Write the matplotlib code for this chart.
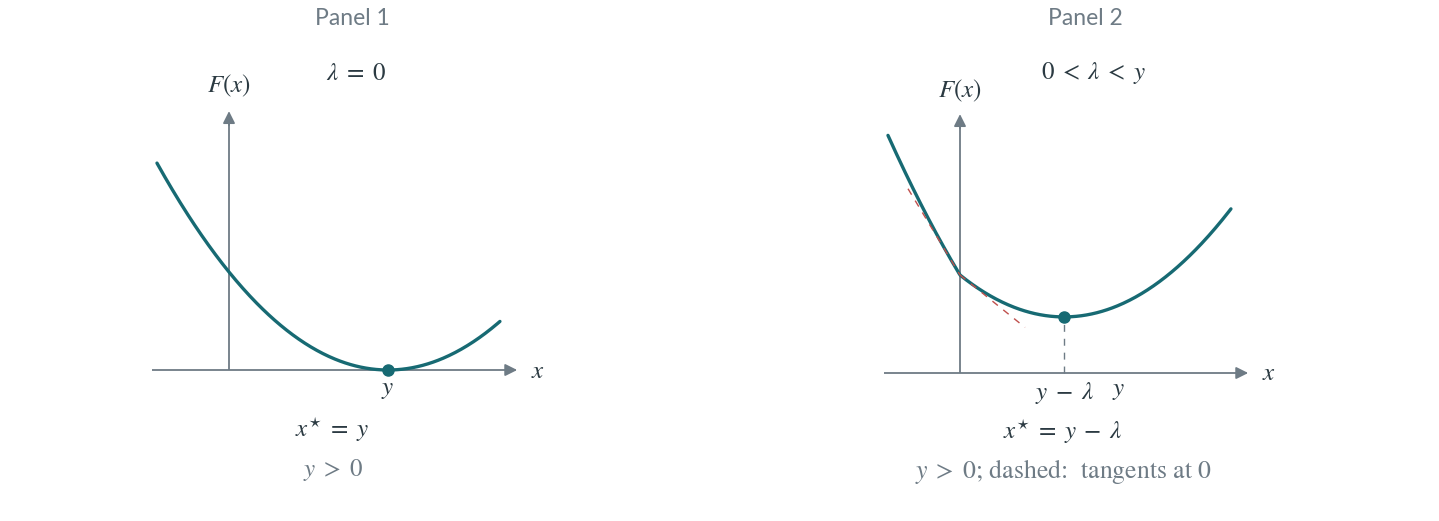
import numpy as np
import matplotlib
matplotlib.use("Agg")
import matplotlib.pyplot as plt

plt.rcParams['mathtext.fontset'] = 'stix'
plt.rcParams['font.family'] = ['Lato', 'DejaVu Sans']

# values (units: x in multiples of y, F scaled)
y_val = 1.0
lam1 = 0.0
lam2 = 0.346
x_left = -0.453
x_right = 1.704
tan_left_from = -0.327
tan_right_to = 0.409

teal = '#176a73'
grey = '#6e7b85'
red = '#c0504d'
textc = '#2b3a42'

W, H = 1439, 521
fig = plt.figure(figsize=(W / 100, H / 100), dpi=100)

# pixel scale: 159 px per x unit, 196 px per F unit
sx, sy = 159.0, 196.0


def make_axes(ox, oy, left, right, top, bottom):
    ax = fig.add_axes([left / W, 1 - bottom / H, (right - left) / W, (bottom - top) / H])
    ax.set_xlim((left - ox) / sx, (right - ox) / sx)
    ax.set_ylim((oy - bottom) / sy, (oy - top) / sy)
    ax.axis('off')
    return ax


def draw_axes(ax, xmin, xmax, ymax):
    ax.plot([xmin, xmax - 0.05], [0, 0], color=grey, lw=1.3, solid_capstyle='butt')
    ax.plot([0, 0], [0, ymax - 0.05], color=grey, lw=1.3, solid_capstyle='butt')
    ax.annotate('', xy=(xmax, 0), xytext=(xmax - 0.1, 0),
                arrowprops=dict(arrowstyle='-|>', color=grey, lw=1.3, mutation_scale=18))
    ax.annotate('', xy=(0, ymax), xytext=(0, ymax - 0.1),
                arrowprops=dict(arrowstyle='-|>', color=grey, lw=1.3, mutation_scale=18))


def F(x, lam):
    return 0.5 * (x - y_val) ** 2 + lam * np.abs(x)


ms = 18
ts = 16.5

# ---- Panel 1
ax1 = make_axes(229, 370, 100, 640, 0, 521)
draw_axes(ax1, -0.484, 1.83, 1.335)
xs = np.linspace(x_left, x_right, 400)
ax1.plot(xs, F(xs, lam1), color=teal, lw=2.4, solid_capstyle='round')
ax1.plot([y_val], [0], 'o', color=teal, ms=8)
ax1.text(1.94, 0, r'$x$', fontsize=ms, color=textc, ha='center', va='center')
ax1.text(0, 1.45, r'$F(x)$', fontsize=ms, color=textc, ha='center', va='center')
ax1.text(0.8, 1.52, r'$\lambda\;=\;0$', fontsize=ms, color=textc, ha='center', va='center')
ax1.text(y_val, -0.1, r'$y$', fontsize=ms, color=textc, ha='center', va='center')
ax1.text(0.648, -0.305, r'$x^{\star}\;=\;y$', fontsize=ms, color=textc, ha='center', va='center')
ax1.text(0.654, -0.51, r'$y\;>\;0$', fontsize=ms, color=grey, ha='center', va='center')
ax1.text(0.773, 1.795, 'Panel 1', fontsize=ts, color=grey, ha='center', va='center')

# ---- Panel 2
ax2 = make_axes(960, 373, 830, 1380, 0, 521)
draw_axes(ax2, -0.478, 1.83, 1.335)
ax2.plot(xs, F(xs, lam2), color=teal, lw=2.4, solid_capstyle='round')
tl = np.array([tan_left_from, 0.0])
tr = np.array([0.0, tan_right_to])
ax2.plot(tl, F(0, lam2) + (-y_val - lam2) * tl, color=red, lw=1.0, ls=(0, (5, 5)))
ax2.plot(tr, F(0, lam2) + (-y_val + lam2) * tr, color=red, lw=1.0, ls=(0, (5, 5)))
xmin2 = y_val - lam2
ax2.plot([xmin2, xmin2], [0, F(xmin2, lam2)], color=grey, lw=1.0, ls=(0, (5, 5)))
ax2.plot([xmin2], [F(xmin2, lam2)], 'o', color=teal, ms=8)
ax2.text(1.94, 0, r'$x$', fontsize=ms, color=textc, ha='center', va='center')
ax2.text(0, 1.44, r'$F(x)$', fontsize=ms, color=textc, ha='center', va='center')
ax2.text(0.84, 1.53, r'$0\;<\;\lambda\;<\;y$', fontsize=ms, color=textc, ha='center', va='center')
ax2.text(xmin2, -0.1, r'$y\;-\;\lambda$', fontsize=ms, color=textc, ha='center', va='center')
ax2.text(y_val, -0.09, r'$y$', fontsize=ms, color=textc, ha='center', va='center')
ax2.text(0.648, -0.3, r'$x^{\star}\;=\;y\;-\;\lambda$', fontsize=ms, color=textc, ha='center', va='center')
ax2.text(0.648, -0.5, r'$y\;>\;0$; dashed:  tangents at 0', fontsize=18.5, color=grey,
         ha='center', va='center', family='STIXGeneral')
ax2.text(0.786, 1.81, 'Panel 2', fontsize=ts, color=grey, ha='center', va='center')

fig.savefig('out.png', dpi=100, facecolor='white')
